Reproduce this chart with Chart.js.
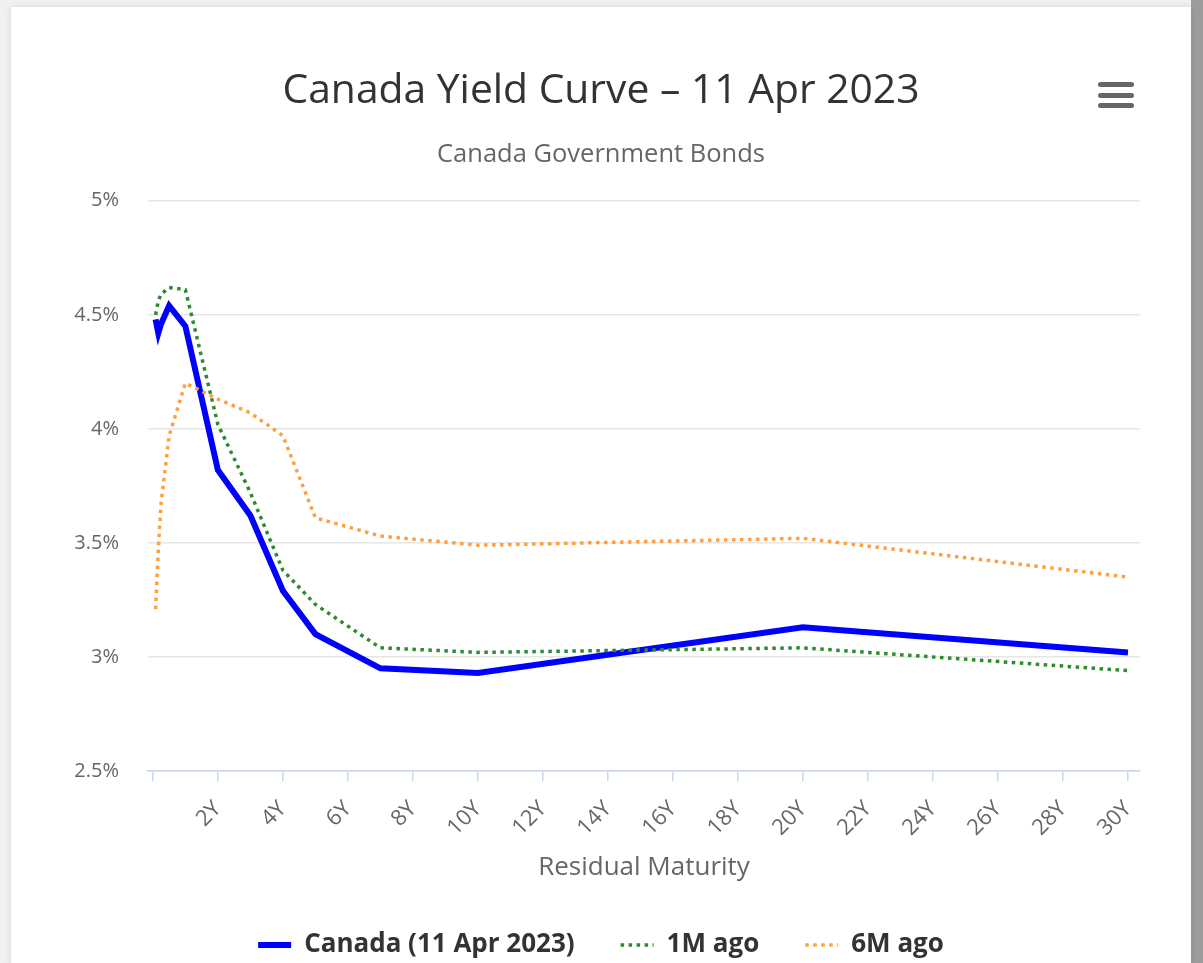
<!DOCTYPE html>
<html>
<head>
<meta charset="utf-8">
<title>Canada Yield Curve</title>
<script src="https://cdn.jsdelivr.net/npm/chart.js@4.4.0/dist/chart.umd.min.js"></script>
<style>
  html, body { margin:0; padding:0; }
  body { width:1203px; height:963px; overflow:hidden; background:#f1f1f1; position:relative; font-family:'Open Sans', sans-serif; }
  .edge { position:absolute; left:1191px; top:0; width:12px; height:963px; background:#9c9c9c; }
  .card { position:absolute; left:11px; top:7px; width:1180px; height:961px; background:#fff; box-shadow:0 0 6px rgba(0,0,0,0.12); }
  .menu { position:absolute; left:1087px; top:75px; width:36px; }
  .menu span { display:block; height:5px; border-radius:3px; background:#666; margin-bottom:5.7px; }
</style>
</head>
<body>
<div class="edge"></div>
<div class="card">
  <canvas id="yieldChart" width="1180" height="961"></canvas>
  <div class="menu"><span></span><span></span><span></span></div>
</div>
<script>
// residual maturity in years: 1M, 2M, 3M, 6M, 1Y ... 30Y
const maturityYears = [0.083, 0.167, 0.25, 0.5, 1, 2, 3, 4, 5, 7, 10, 20, 30];

// yields in %
const yieldsToday = [4.48, 4.42, 4.46, 4.54, 4.45, 3.82, 3.62, 3.29, 3.10, 2.95, 2.93, 3.13, 3.02];
const yields1M    = [4.50, 4.56, 4.59, 4.62, 4.61, 4.02, 3.72, 3.38, 3.23, 3.04, 3.02, 3.04, 2.94];
const yields6M    = [3.21, 3.47, 3.67, 3.97, 4.20, 4.13, 4.07, 3.97, 3.61, 3.53, 3.49, 3.52, 3.35];

const seriesNames = ['Canada (11 Apr 2023)', '1M ago', '6M ago'];

const xTickValues = [0, 2, 4, 6, 8, 10, 12, 14, 16, 18, 20, 22, 24, 26, 28, 30];
const xTickLabels = ['', '2Y', '4Y', '6Y', '8Y', '10Y', '12Y', '14Y', '16Y', '18Y', '20Y', '22Y', '24Y', '26Y', '28Y', '30Y'];
const yTickValues = [2.5, 3, 3.5, 4, 4.5, 5];
const yTickLabels = ['2.5%', '3%', '3.5%', '4%', '4.5%', '5%'];

const toPoints = ys => maturityYears.map((m, i) => ({ x: m, y: ys[i] }));

Chart.defaults.font.family = "'Open Sans', sans-serif";

// legend symbols take width and dash pattern from the dataset line
const legendLabels = chart =>
  Chart.defaults.plugins.legend.labels.generateLabels(chart).map(item => {
    const ds = chart.data.datasets[item.datasetIndex];
    item.lineDash = ds.borderDash || [];
    item.lineWidth = ds.borderWidth;
    item.strokeStyle = ds.borderColor;
    return item;
  });

new Chart(document.getElementById('yieldChart'), {
  type: 'line',
  data: {
    datasets: [
      { label: seriesNames[0], data: toPoints(yieldsToday), borderColor: '#0000ff', backgroundColor: '#0000ff', borderWidth: 6, order: 3 },
      { label: seriesNames[1], data: toPoints(yields1M), borderColor: '#2f8a2f', backgroundColor: '#2f8a2f', borderWidth: 3.5, borderDash: [3.5, 4.5], order: 2 },
      { label: seriesNames[2], data: toPoints(yields6M), borderColor: '#ffa040', backgroundColor: '#ffa040', borderWidth: 3.5, borderDash: [3.5, 4.5], order: 1 }
    ]
  },
  options: {
    responsive: false,
    animation: false,
    elements: { point: { radius: 0, hoverRadius: 0 }, line: { tension: 0, fill: false } },
    layout: { padding: 0 },
    scales: {
      x: {
        type: 'linear',
        min: -0.15,
        max: 30.37,
        afterBuildTicks: s => { s.ticks = xTickValues.map(v => ({ value: v })); },
        afterFit: s => { s.height = 115; },
        grid: { drawOnChartArea: false, color: '#ccd6eb', lineWidth: 1.5, tickLength: 10 },
        border: { color: '#ccd6eb', width: 1.5 },
        ticks: {
          autoSkip: false, minRotation: 45, maxRotation: 45, padding: 15,
          color: '#666', font: { size: 22 },
          callback: v => xTickLabels[xTickValues.indexOf(v)]
        },
        title: { display: true, text: 'Residual Maturity', color: '#666', font: { size: 26 }, padding: { top: 0, bottom: 3 } }
      },
      y: {
        type: 'linear',
        min: 2.5,
        max: 5,
        afterBuildTicks: s => { s.ticks = yTickValues.map(v => ({ value: v })); },
        afterFit: s => { s.width = 137; },
        grid: { color: '#e6e6e6', lineWidth: 1.5, drawTicks: false },
        border: { display: false },
        ticks: {
          padding: 29, color: '#666', font: { size: 20 },
          callback: v => yTickLabels[yTickValues.indexOf(v)]
        }
      },
      // empty right-hand gutter
      yRight: {
        type: 'linear',
        position: 'right',
        afterFit: s => { s.width = 51; },
        grid: { display: false },
        border: { display: false },
        ticks: { display: false }
      }
    },
    plugins: {
      title: {
        display: true, text: 'Canada Yield Curve – 11 Apr 2023', color: '#333',
        font: { size: 40.8, weight: 'normal' }, padding: { top: 59.5, bottom: 0 }
      },
      subtitle: {
        display: true, text: 'Canada Government Bonds', color: '#666',
        font: { size: 25.5 }, padding: { top: 24, bottom: 30.7 }
      },
      legend: {
        position: 'bottom',
        labels: {
          usePointStyle: true, pointStyle: 'line', pointStyleWidth: 33,
          color: '#333', font: { size: 26, weight: 'bold' }, padding: 46,
          sort: (a, b) => a.datasetIndex - b.datasetIndex,
          generateLabels: legendLabels
        }
      },
      tooltip: { enabled: false }
    }
  }
});
</script>
</body>
</html>
